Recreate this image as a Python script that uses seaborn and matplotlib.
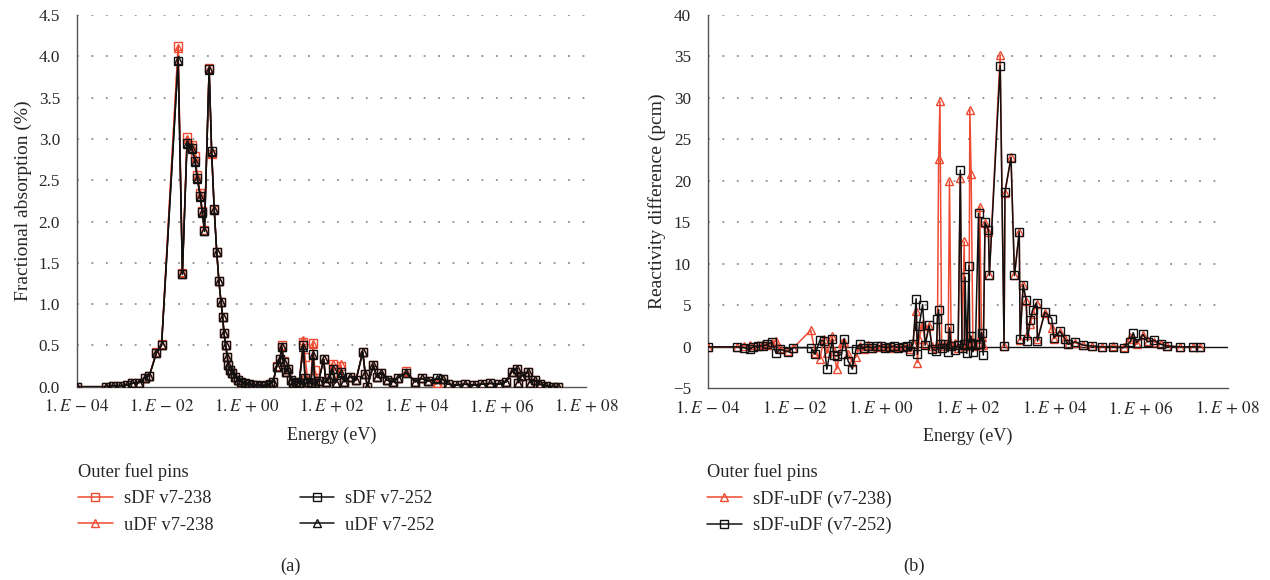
import numpy as np
import pandas as pd
import seaborn as sns
import matplotlib
matplotlib.use("Agg")
import matplotlib.pyplot as plt
from matplotlib.ticker import FuncFormatter, FixedLocator, NullLocator

# ---------------- (a) fractional absorption ----------------
# log10 of energy (eV) for the group grid
log_e_a = [-4.00, -3.31, -3.14, -2.98, -2.82, -2.70, -2.53, -2.39, -2.29, -2.12,
           -2.00, -1.61, -1.51, -1.40, -1.29, -1.21, -1.16, -1.09, -1.04, -0.99,
           -0.88, -0.82, -0.76, -0.70, -0.65, -0.60, -0.56, -0.53, -0.49, -0.45,
           -0.43, -0.39, -0.33, -0.27, -0.20, -0.12, -0.04, 0.05, 0.15, 0.25,
           0.35, 0.45, 0.55, 0.63, 0.71, 0.79, 0.83, 0.88, 0.93, 0.98,
           1.04, 1.10, 1.17, 1.24, 1.34, 1.38, 1.45, 1.52, 1.57, 1.61,
           1.70, 1.82, 1.87, 1.95, 2.03, 2.10, 2.22, 2.30, 2.44, 2.58,
           2.74, 2.80, 2.85, 2.99, 3.07, 3.18, 3.31, 3.45, 3.57, 3.77,
           3.97, 4.13, 4.28, 4.48, 4.63, 4.75, 4.95, 5.15, 5.35, 5.55,
           5.75, 5.95, 6.12, 6.25, 6.38, 6.40, 6.48, 6.64, 6.68, 6.79,
           6.91, 7.05, 7.22, 7.34]

sdf_238 = [0.00, 0.00, 0.01, 0.01, 0.02, 0.04, 0.05, 0.11, 0.13, 0.42,
           0.52, 4.12, 1.38, 3.02, 2.93, 2.79, 2.56, 2.34, 2.13, 1.90,
           3.86, 2.82, 2.14, 1.63, 1.28, 1.03, 0.84, 0.65, 0.50, 0.36,
           0.26, 0.20, 0.17, 0.12, 0.08, 0.06, 0.04, 0.03, 0.02, 0.02,
           0.01, 0.02, 0.03, 0.06, 0.25, 0.34, 0.50, 0.31, 0.18, 0.22,
           0.08, 0.05, 0.06, 0.04, 0.54, 0.36, 0.06, 0.05, 0.53, 0.20,
           0.07, 0.33, 0.06, 0.10, 0.28, 0.05, 0.25, 0.06, 0.12, 0.08,
           0.42, 0.15, 0.00, 0.26, 0.12, 0.17, 0.08, 0.06, 0.11, 0.19,
           0.06, 0.10, 0.07, 0.03, 0.09, 0.03, 0.02, 0.03, 0.02, 0.03,
           0.04, 0.03, 0.06, 0.18, 0.22, 0.05, 0.13, 0.18, 0.05, 0.08,
           0.03, 0.01, 0.00, 0.00]

udf_238 = [0.00, 0.00, 0.01, 0.01, 0.02, 0.04, 0.05, 0.11, 0.13, 0.42,
           0.51, 4.10, 1.39, 3.00, 2.92, 2.77, 2.55, 2.33, 2.12, 1.90,
           3.85, 2.83, 2.15, 1.63, 1.28, 1.03, 0.84, 0.65, 0.50, 0.36,
           0.26, 0.20, 0.17, 0.12, 0.08, 0.06, 0.04, 0.03, 0.02, 0.02,
           0.01, 0.02, 0.03, 0.06, 0.24, 0.33, 0.49, 0.30, 0.18, 0.22,
           0.08, 0.05, 0.06, 0.04, 0.57, 0.14, 0.06, 0.05, 0.52, 0.08,
           0.07, 0.33, 0.06, 0.10, 0.27, 0.05, 0.27, 0.06, 0.12, 0.08,
           0.42, 0.15, 0.00, 0.26, 0.12, 0.17, 0.08, 0.06, 0.11, 0.18,
           0.06, 0.10, 0.07, 0.04, 0.09, 0.03, 0.02, 0.03, 0.02, 0.03,
           0.04, 0.03, 0.06, 0.18, 0.22, 0.05, 0.13, 0.18, 0.05, 0.08,
           0.03, 0.01, 0.00, 0.00]

sdf_252 = [0.00, 0.00, 0.01, 0.01, 0.02, 0.04, 0.05, 0.11, 0.13, 0.41,
           0.50, 3.94, 1.37, 2.95, 2.89, 2.73, 2.53, 2.31, 2.11, 1.89,
           3.85, 2.85, 2.15, 1.63, 1.28, 1.03, 0.84, 0.65, 0.50, 0.36,
           0.26, 0.20, 0.17, 0.12, 0.08, 0.06, 0.04, 0.03, 0.02, 0.02,
           0.01, 0.02, 0.03, 0.06, 0.24, 0.33, 0.48, 0.30, 0.18, 0.22,
           0.08, 0.05, 0.06, 0.04, 0.50, 0.10, 0.06, 0.05, 0.40, 0.05,
           0.07, 0.33, 0.06, 0.10, 0.22, 0.05, 0.18, 0.06, 0.12, 0.08,
           0.42, 0.15, 0.00, 0.26, 0.12, 0.17, 0.08, 0.06, 0.11, 0.17,
           0.06, 0.10, 0.07, 0.10, 0.09, 0.03, 0.02, 0.03, 0.02, 0.03,
           0.04, 0.03, 0.06, 0.18, 0.22, 0.05, 0.13, 0.18, 0.05, 0.08,
           0.03, 0.01, 0.00, 0.00]

udf_252 = [0.00, 0.00, 0.01, 0.01, 0.02, 0.04, 0.05, 0.11, 0.13, 0.41,
           0.50, 3.96, 1.36, 2.94, 2.88, 2.72, 2.52, 2.30, 2.10, 1.88,
           3.84, 2.84, 2.14, 1.63, 1.28, 1.03, 0.84, 0.65, 0.50, 0.36,
           0.26, 0.20, 0.17, 0.12, 0.08, 0.06, 0.04, 0.03, 0.02, 0.02,
           0.01, 0.02, 0.03, 0.06, 0.24, 0.33, 0.48, 0.30, 0.18, 0.22,
           0.08, 0.05, 0.06, 0.04, 0.48, 0.09, 0.06, 0.05, 0.38, 0.04,
           0.07, 0.33, 0.06, 0.10, 0.21, 0.05, 0.17, 0.06, 0.12, 0.08,
           0.42, 0.15, 0.00, 0.26, 0.12, 0.17, 0.08, 0.06, 0.11, 0.16,
           0.06, 0.10, 0.07, 0.09, 0.09, 0.03, 0.02, 0.03, 0.02, 0.03,
           0.04, 0.03, 0.06, 0.18, 0.22, 0.05, 0.13, 0.18, 0.05, 0.08,
           0.03, 0.01, 0.00, 0.00]

# ---------------- (b) reactivity difference sDF-uDF ----------------
log_e_b = [-4.00, -3.33, -3.16, -3.02, -2.95, -2.83, -2.72, -2.62, -2.52, -2.42,
           -2.33, -2.14, -2.02, -1.62, -1.52, -1.41, -1.32, -1.25, -1.12, -1.09,
           -1.02, -0.91, -0.85, -0.76, -0.66, -0.58, -0.49, -0.40, -0.30, -0.20,
           -0.10, 0.00, 0.10, 0.20, 0.30, 0.40, 0.50, 0.60, 0.67, 0.74,
           0.81, 0.84, 0.88, 0.96, 1.02, 1.11, 1.18, 1.28, 1.30, 1.33,
           1.36, 1.40, 1.48, 1.55, 1.58, 1.62, 1.70, 1.78, 1.83, 1.87,
           1.92, 1.94, 1.98, 2.03, 2.05, 2.08, 2.12, 2.18, 2.25, 2.28,
           2.32, 2.36, 2.40, 2.48, 2.50, 2.75, 2.84, 2.86, 3.00, 3.08,
           3.19, 3.21, 3.28, 3.35, 3.38, 3.44, 3.50, 3.59, 3.61, 3.78,
           3.94, 3.99, 4.13, 4.25, 4.32, 4.48, 4.67, 4.87, 5.10, 5.35,
           5.60, 5.75, 5.82, 5.90, 6.05, 6.15, 6.30, 6.45, 6.60, 6.90,
           7.20, 7.37]

diff_238 = [0.0, 0.0, 0.1, 0.2, 0.0, 0.2, 0.3, 0.2, 0.5, 0.7,
            -0.2, -0.5, -0.1, 2.0, -0.7, -1.5, 1.0, -0.8, 1.3, -0.5,
            -2.7, 0.5, 0.6, -0.9, -1.8, -1.2, 0.1, -0.3, 0.2, -0.1,
            0.0, 0.1, 0.0, 0.1, -0.1, 0.0, 0.1, 0.0, -0.3, 0.5,
            4.3, -1.9, 1.0, 2.8, 0.4, 2.5, 0.1, -0.2, 0.2, 22.6,
            29.6, 0.1, 0.3, 0.2, 20.0, 0.3, 0.5, -0.2, 20.4, 0.4,
            12.7, 0.1, 0.3, 0.2, 28.6, 20.8, 0.6, 0.1, 0.9, 16.9,
            1.2, 0.2, 14.9, 13.8, 8.7, 35.2, 0.1, 18.5, 22.9, 8.6,
            13.8, 0.8, 7.4, 5.5, 1.4, 2.7, 4.0, 5.2, 0.9, 4.1,
            2.3, 1.0, 1.8, 1.0, 0.4, 0.5, 0.2, 0.1, 0.0, 0.1,
            0.0, 1.2, 0.9, 0.3, 1.4, 0.7, 0.6, 0.4, 0.1, 0.0,
            0.0, 0.0]

diff_252 = [0.0, 0.0, -0.1, -0.3, 0.0, 0.1, 0.1, 0.3, 0.6, -0.8,
            -0.3, -0.6, -0.1, -0.1, -0.9, 0.8, 0.7, -2.7, 0.9, -1.0,
            -1.1, -0.9, 1.0, -1.7, -2.7, -0.3, 0.3, -0.2, 0.1, -0.2,
            0.1, 0.1, -0.1, 0.0, 0.1, -0.1, 0.0, 0.1, -0.5, 0.3,
            5.8, -0.9, 2.5, 5.1, 0.2, 2.6, -0.3, -0.5, 3.4, 4.5,
            0.3, -0.2, 0.4, -0.6, 2.3, 0.1, -0.4, 0.2, 21.3, -0.2,
            0.3, 8.4, -0.8, 9.8, 0.5, 1.3, -0.6, 0.2, 16.1, 0.4,
            1.7, -1.0, 15.0, 14.1, 8.6, 33.9, 0.1, 18.7, 22.8, 8.6,
            13.9, 0.9, 7.5, 5.6, 0.7, 3.2, 4.5, 5.3, 0.7, 4.2,
            3.4, 1.1, 1.9, 0.9, 0.3, 0.6, 0.2, 0.1, 0.0, 0.0,
            -0.1, 0.6, 1.7, 0.5, 1.5, 0.6, 0.8, 0.3, 0.1, 0.0,
            0.0, 0.0]

RED = "#EE4A32"
BLACK = "#111111"
GRID = "#8c8c8c"
SPINE = "#555555"

sns.set_theme(style="white")
plt.rcParams["font.family"] = ["Liberation Serif", "DejaVu Serif"]
plt.rcParams["mathtext.fontset"] = "stix"
plt.rcParams["axes.unicode_minus"] = True

FS_TICK = 12.3
FS_XLAB = 13
FS_YLAB = 14
FS_LEG = 13.2

df_a = pd.DataFrame({"energy": 10 ** np.array(log_e_a),
                     "sdf_238": sdf_238, "udf_238": udf_238,
                     "sdf_252": sdf_252, "udf_252": udf_252})
df_b = pd.DataFrame({"energy": 10 ** np.array(log_e_b),
                     "d238": diff_238, "d252": diff_252})


def sci_label(v, pos):
    e = int(round(np.log10(v)))
    sign = "-" if e < 0 else "+"
    return r"$1.E\,%s\,%02d$" % (sign, abs(e))


def style_axes(ax):
    ax.set_xscale("log")
    ax.set_xlim(1e-4, 1e8)
    ax.xaxis.set_major_locator(FixedLocator([10.0 ** k for k in range(-4, 9, 2)]))
    ax.xaxis.set_minor_locator(NullLocator())
    ax.xaxis.set_major_formatter(FuncFormatter(sci_label))
    for side in ["top", "right"]:
        ax.spines[side].set_visible(False)
    for side in ["left", "bottom"]:
        ax.spines[side].set_color(SPINE)
        ax.spines[side].set_linewidth(1.0)
    ax.tick_params(axis="both", which="major", direction="out", length=4,
                   width=1.0, color=SPINE, labelsize=FS_TICK)
    ax.tick_params(axis="x", pad=5)
    ax.tick_params(axis="y", pad=8)
    ax.grid(False)
    ax.set_xlabel("Energy (eV)", fontsize=FS_XLAB, labelpad=7)


def draw(ax, col, data, color, marker, label, z):
    sns.lineplot(data=data, x="energy", y=col, ax=ax, color=color,
                 estimator=None, sort=False, linewidth=1.1,
                 marker=marker, markersize=5.2, markerfacecolor="none",
                 markeredgecolor=color, markeredgewidth=1.0,
                 label=label, zorder=z)


fig = plt.figure(figsize=(12.7, 5.8), dpi=100)
ax_a = fig.add_axes([0.0604, 0.3333, 0.4010, 0.6408])
ax_b = fig.add_axes([0.5572, 0.3305, 0.4095, 0.6436])

# ---- panel (a)
draw(ax_a, "udf_238", df_a, RED, "^", "uDF v7-238", 3)
draw(ax_a, "sdf_238", df_a, RED, "s", "sDF v7-238", 4)
draw(ax_a, "udf_252", df_a, BLACK, "^", "uDF v7-252", 5)
draw(ax_a, "sdf_252", df_a, BLACK, "s", "sDF v7-252", 6)
style_axes(ax_a)
ax_a.set_ylim(0, 4.5)
ax_a.set_yticks(np.arange(0, 4.51, 0.5))
ax_a.yaxis.set_major_formatter(FuncFormatter(lambda v, p: "%.1f" % v))
for yv in np.arange(0.5, 4.51, 0.5):
    ax_a.axhline(yv, color=GRID, linestyle=(0, (1, 7)), linewidth=1.3, zorder=0)
ax_a.set_ylabel("Fractional absorption (%)", fontsize=FS_YLAB, labelpad=5)
ax_a.get_legend().remove()

h_a = {l: h for h, l in zip(*ax_a.get_legend_handles_labels())}
order_a = ["sDF v7-238", "uDF v7-238", "sDF v7-252", "uDF v7-252"]
fig.legend([h_a[k] for k in order_a], order_a, loc="upper left",
           bbox_to_anchor=(0.0614, 0.201), ncol=2, frameon=False,
           title="Outer fuel pins", alignment="left", fontsize=FS_LEG,
           title_fontsize=FS_LEG, handlelength=1.9, handletextpad=0.6,
           columnspacing=4.7, labelspacing=0.5, borderpad=0,
           borderaxespad=0, numpoints=1)

# ---- panel (b)
draw(ax_b, "d238", df_b, RED, "^", "sDF-uDF (v7-238)", 3)
draw(ax_b, "d252", df_b, BLACK, "s", "sDF-uDF (v7-252)", 4)
style_axes(ax_b)
ax_b.set_ylim(-5, 40)
ax_b.set_yticks(np.arange(-5, 41, 5))
for yv in np.arange(5, 41, 5):
    ax_b.axhline(yv, color=GRID, linestyle=(0, (1, 7)), linewidth=1.3, zorder=0)
ax_b.axhline(0, color=BLACK, linewidth=1.0, zorder=2)
ax_b.set_ylabel("Reactivity difference (pcm)", fontsize=FS_YLAB, labelpad=5)
ax_b.get_legend().remove()

h_b, l_b = ax_b.get_legend_handles_labels()
fig.legend(h_b, l_b, loc="upper left", bbox_to_anchor=(0.5565, 0.201),
           ncol=1, frameon=False, title="Outer fuel pins", alignment="left",
           fontsize=FS_LEG, title_fontsize=FS_LEG, handlelength=1.9,
           handletextpad=0.6, labelspacing=0.5, borderpad=0,
           borderaxespad=0, numpoints=1)

fig.text(290 / 1270, 1 - 566 / 580, "(a)", ha="center", va="center", fontsize=FS_LEG)
fig.text(914 / 1270, 1 - 566 / 580, "(b)", ha="center", va="center", fontsize=FS_LEG)

fig.savefig("out.png", dpi=100)
